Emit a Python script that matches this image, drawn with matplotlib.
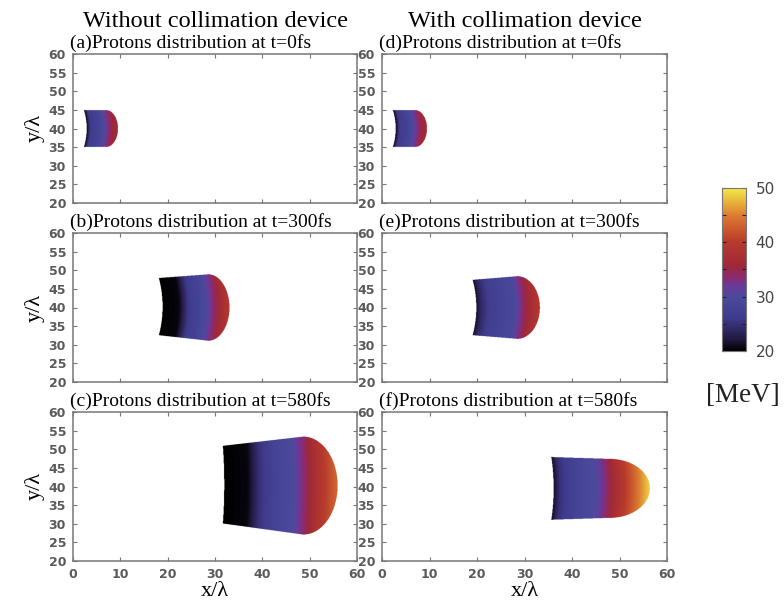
import numpy as np
import matplotlib.pyplot as plt
from matplotlib.colors import LinearSegmentedColormap

# column headers and panel captions
col_titles = ["Without collimation device", "With collimation device"]
panel_letters = ["a", "b", "c", "d", "e", "f"]
panel_times = [0, 300, 580, 0, 300, 580]

# bunch outline per panel (in units of lambda)
x_left = [2.2, 18.0, 31.5, 2.2, 19.0, 35.6]
x_flat = [7.0, 28.5, 48.5, 7.0, 28.5, 48.0]
x_tip = [9.5, 33.0, 55.8, 9.5, 33.3, 56.5]
y_top_left = [45.0, 48.0, 51.0, 45.0, 47.5, 48.0]
y_top_right = [45.0, 49.0, 53.5, 45.0, 48.5, 47.5]
y_bot_left = [35.0, 32.5, 30.0, 35.0, 32.5, 31.0]
y_bot_right = [35.0, 31.0, 27.0, 35.0, 31.5, 31.5]
left_bow = [0.6, 0.8, 0.3, 0.6, 0.8, 0.5]

# proton energy (MeV) along the bunch axis
energy_x = [
    [2.2, 3.0, 5.5, 6.5, 7.5, 9.5],
    [18.0, 21.5, 23.5, 27.0, 28.5, 30.0, 33.0],
    [31.5, 36.5, 39.0, 42.0, 46.0, 48.0, 51.0, 55.8],
    [2.2, 3.0, 5.5, 6.5, 7.5, 9.5],
    [19.0, 20.0, 22.0, 27.0, 28.5, 30.0, 33.3],
    [35.6, 37.0, 40.0, 44.5, 46.5, 48.0, 52.0, 56.5],
]
energy_mev = [
    [20, 26, 29, 32, 35, 37],
    [20, 20.5, 26, 29.5, 33, 36, 41],
    [20, 20.5, 25, 28, 30, 33, 38, 44],
    [20, 26, 29, 32, 35, 37],
    [21, 24, 27, 29.5, 33, 36, 41],
    [21, 25, 28, 30, 33, 36, 42, 50],
]

cbar_ticks = [20, 25, 30, 35, 40, 45, 50]

palette = [
    (0.00, "#000000"),
    (0.07, "#22183f"),
    (0.20, "#3f3a8c"),
    (0.33, "#4a4a9c"),
    (0.40, "#6a3a98"),
    (0.45, "#8a2a72"),
    (0.52, "#9e2838"),
    (0.67, "#b83a2c"),
    (0.83, "#dc7a30"),
    (1.00, "#f2ea48"),
]
cmap = LinearSegmentedColormap.from_list("bunch", palette)
cmap.set_bad((1, 1, 1, 0))

gx = np.linspace(0, 60, 720)
gy = np.linspace(20, 60, 480)
X, Y = np.meshgrid(gx, gy)


def bunch_field(i):
    xl, xf, xt = x_left[i], x_flat[i], x_tip[i]
    s = np.clip((X - xl) / (xf - xl), 0, 1)
    top = y_top_left[i] + s * (y_top_right[i] - y_top_left[i])
    bot = y_bot_left[i] + s * (y_bot_right[i] - y_bot_left[i])
    yc = 0.5 * (top + bot)
    hh = 0.5 * (top - bot)
    t = (Y - yc) / hh
    bow = left_bow[i] * (1 - np.clip(t, -1, 1) ** 2)
    inside = (np.abs(t) <= 1) & (X >= xl + bow)
    cap = X > xf
    u = (X - xf) / (xt - xf)
    inside &= ~cap | ((u <= 1) & (t ** 2 + u ** 2 <= 1))
    e = np.interp(X - bow, energy_x[i], energy_mev[i])
    return np.ma.masked_where(~inside, e)


fig = plt.figure(figsize=(7.84, 6.03), dpi=100)
col_x = [73 / 784, 382 / 784]
col_w = [284 / 784, 285 / 784]
row_y = [1 - 203 / 603, 1 - 382 / 603, 1 - 561 / 603]
row_h = 149 / 603

serif = "Liberation Serif"
tick_font = {"family": "DejaVu Sans", "weight": "bold", "size": 9}
for i in range(6):
    col, row = divmod(i, 3)
    ax = fig.add_axes([col_x[col], row_y[row], col_w[col], row_h])
    im = ax.imshow(bunch_field(i), extent=[0, 60, 20, 60], origin="lower",
                   cmap=cmap, vmin=20, vmax=50, aspect="auto",
                   interpolation="bilinear")
    ax.set_xlim(0, 60)
    ax.set_ylim(20, 60)
    ax.set_xticks(range(0, 61, 10))
    ax.set_yticks(range(20, 61, 5))
    ax.tick_params(direction="in", top=True, right=True, length=3,
                   color="#777777", labelcolor="#5a5a5a", pad=5)
    for lab in ax.get_xticklabels() + ax.get_yticklabels():
        lab.set(**tick_font)
    for sp in ax.spines.values():
        sp.set_color("#777777")
        sp.set_linewidth(1.1)
    if row < 2:
        ax.tick_params(labelbottom=False)
    else:
        ax.set_xlabel("x/\u03bb", family=serif, fontsize=16, labelpad=1)
    if col == 0:
        ax.set_ylabel("y/\u03bb", family=serif, fontsize=16, labelpad=3)
    ax.text(-0.01, 1.012, f"({panel_letters[i]})Protons distribution at t={panel_times[i]}fs",
            transform=ax.transAxes, family=serif, fontsize=14,
            ha="left", va="bottom")
    if row == 0:
        ax.text(0.5, 1.15, col_titles[col], transform=ax.transAxes,
                family=serif, fontsize=17.5, ha="center", va="bottom")

cax = fig.add_axes([722 / 784, 1 - 351 / 603, 24 / 784, 163 / 603])
cb = fig.colorbar(im, cax=cax)
cb.set_ticks(cbar_ticks)
cb.set_ticklabels([str(v) if v % 10 == 0 else "" for v in cbar_ticks])
cax.tick_params(direction="in", left=True, right=True, length=3,
                color="#222222", labelcolor="#444444", labelsize=11, pad=7)
cb.outline.set_edgecolor("#777777")
fig.text(743 / 784, 1 - 395 / 603, "[MeV]", family=serif, fontsize=19.5,
         ha="center", va="center", color="#222222")

fig.savefig("out.png", dpi=100)
